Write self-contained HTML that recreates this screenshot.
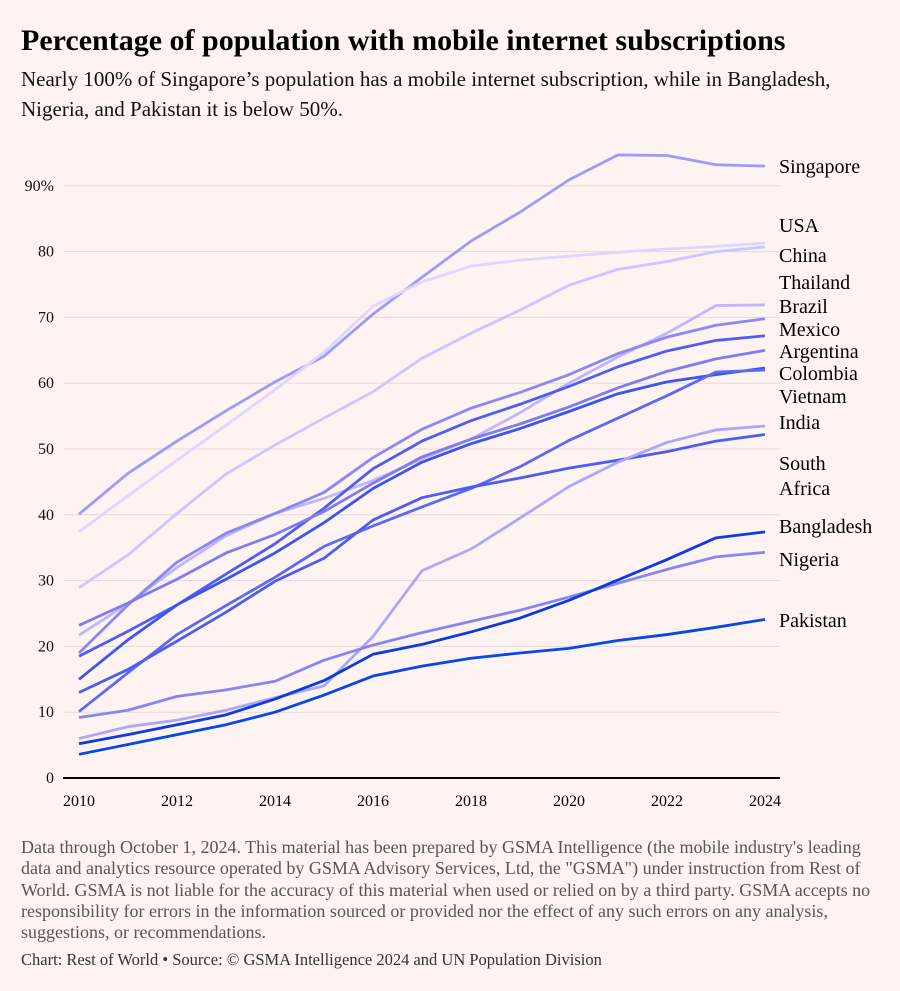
<!DOCTYPE html>
<html><head><meta charset="utf-8"><style>
body{margin:0;background:#fff3f2;font-family:"Liberation Serif",serif;}
#wrap{position:relative;width:900px;height:991px;background:#fff3f2;}
h1{position:absolute;left:21px;top:24px;margin:0;font-size:30px;font-weight:bold;color:#000;white-space:nowrap;}
.sub{position:absolute;left:21px;top:64px;width:870px;font-size:21px;line-height:30px;color:#111;margin:0;}
.note{position:absolute;left:21px;top:837px;width:860px;font-size:18px;line-height:21.3px;color:#555;margin:0;}
.src{position:absolute;left:21px;top:950px;font-size:16.5px;color:#333;margin:0;}
svg{position:absolute;left:0;top:0;}
</style></head><body>
<div id="wrap">
<h1>Percentage of population with mobile internet subscriptions</h1>
<p class="sub">Nearly 100% of Singapore’s population has a mobile internet subscription, while in Bangladesh, Nigeria, and Pakistan it is below 50%.</p>
<svg id="chart" width="900" height="991"></svg>
<p class="note">Data through October 1, 2024. This material has been prepared by GSMA Intelligence (the mobile industry's leading data and analytics resource operated by GSMA Advisory Services, Ltd, the "GSMA") under instruction from Rest of World. GSMA is not liable for the accuracy of this material when used or relied on by a third party. GSMA accepts no responsibility for errors in the information sourced or provided nor the effect of any such errors on any analysis, suggestions, or recommendations.</p>
<p class="src">Chart: Rest of World • Source: © GSMA Intelligence 2024 and UN Population Division</p>
</div>
<script>
const years=[2010,2011,2012,2013,2014,2015,2016,2017,2018,2019,2020,2021,2022,2023,2024];
const yTicks=[0,10,20,30,40,50,60,70,80,90];
const xTicks=[2010,2012,2014,2016,2018,2020,2022,2024];
const countries=["Singapore","USA","China","Thailand","Brazil","Mexico","Argentina","Colombia","Vietnam","South Africa","India","Nigeria","Bangladesh","Pakistan"];
const singapore=[40.1,46.3,51.2,55.8,60.2,64.1,70.5,76.1,81.6,86,90.9,94.7,94.6,93.2,93];
const usa=[37.4,42.9,48.3,53.6,59,64.7,71.7,75.4,77.8,78.7,79.3,79.9,80.4,80.8,81.3];
const china=[28.9,33.9,40.2,46.2,50.6,54.7,58.7,63.8,67.6,71.1,74.9,77.3,78.5,80,80.7];
const thailand=[21.7,26.5,32,36.8,40.2,42.5,45.2,48.5,51.5,55.5,60,64,67.6,71.8,71.9];
const brazil=[19,26.3,32.8,37.2,40.2,43.4,48.7,53,56.2,58.6,61.3,64.5,67,68.8,69.8];
const mexico=[18.5,22.3,26.3,31,35.6,41,47,51.2,54.3,56.8,59.5,62.5,64.9,66.5,67.2];
const argentina=[23.2,26.6,30.2,34.2,37,40.5,44.8,48.8,51.5,53.8,56.4,59.3,61.8,63.7,65];
const colombia=[15,21,26.3,30.2,34.2,38.8,44,48,50.8,53.1,55.7,58.4,60.2,61.3,62.3];
const vietnam=[10.1,16,21.8,26.2,30.5,35.2,38.3,41.2,44,47.3,51.3,54.7,58.1,61.7,62];
const southAfrica=[13,16.5,20.8,25.2,29.9,33.4,39.2,42.6,44.2,45.6,47.1,48.3,49.6,51.2,52.2];
const india=[6,7.8,8.8,10.3,12.2,14,21.5,31.5,34.8,39.5,44.3,48,51,52.9,53.5];
const nigeria=[9.2,10.3,12.4,13.4,14.7,17.9,20.2,22.1,23.8,25.5,27.5,29.6,31.7,33.6,34.3];
const bangladesh=[5.2,6.6,8.1,9.6,12,14.8,18.8,20.3,22.2,24.3,27,30.1,33.2,36.5,37.4];
const pakistan=[3.6,5.1,6.6,8.1,10,12.6,15.5,17,18.2,19,19.7,20.9,21.8,22.9,24.1];
const series=[singapore,usa,china,thailand,brazil,mexico,argentina,colombia,vietnam,southAfrica,india,nigeria,bangladesh,pakistan];
const colors=["#9c9cf6","#ded6ff","#cdc5ff","#bdb7fb","#8a88f2","#4c5ff2","#7d7df0","#3d55f0","#5a6af2","#4a5ef2","#aca8f8","#8686f2","#0b3ae0","#0646ea"];
const labels=[["Singapore",166],["USA",225],["China",255],["Thailand",282],["Brazil",306],["Mexico",329],["Argentina",351],["Colombia",373],["Vietnam",396],["India",422],["South",463],["Africa",488],["Bangladesh",526],["Nigeria",559],["Pakistan",620]];
const svg=document.getElementById('chart');const NS="http://www.w3.org/2000/svg";
const x=yr=>79+(yr-2010)*49; const y=v=>778-v*6.58;
function mk(t,a){const e=document.createElementNS(NS,t);for(const k in a)e.setAttribute(k,a[k]);svg.appendChild(e);return e;}
yTicks.forEach(t=>{
 if(t>0){const g=mk('line',{x1:64,x2:780,y1:y(t),y2:y(t),stroke:'#e3d9d8','stroke-width':1});
 
 }
 const l=mk('text',{x:54,y:y(t)+5,'text-anchor':'end','font-size':16,'font-family':'Liberation Serif, serif',fill:'#111'});
 l.textContent=t===90?'90%':String(t);
 
 
});
xTicks.forEach(t=>{const l=mk('text',{x:x(t),y:806,'text-anchor':'middle','font-size':16,'font-family':'Liberation Serif, serif',fill:'#000'});
 l.textContent=String(t);
 
 });
series.forEach((s,i)=>{const p=mk('polyline',{points:s.map((v,j)=>x(years[j])+','+y(v)).join(' '),fill:'none',stroke:colors[i],'stroke-width':2.8,'stroke-linejoin':'round'});
 
 });
const ax=mk('line',{x1:63,x2:780,y1:778,y2:778,stroke:'#000','stroke-width':2});


labels.forEach(([t,yy])=>{const l=mk('text',{x:779,y:yy+7,'font-size':20,'font-family':'Liberation Serif, serif',fill:'#000'});
 l.textContent=t;
 
 });
</script>
</body></html>
